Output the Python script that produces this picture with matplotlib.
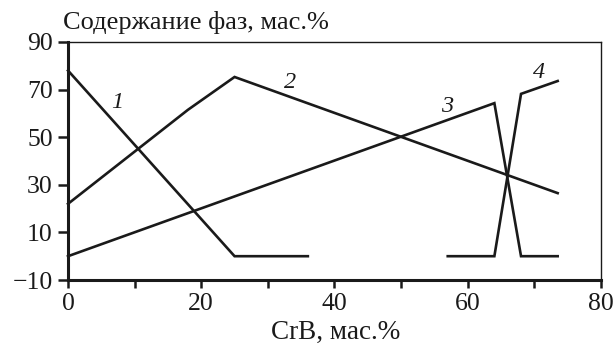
import matplotlib
matplotlib.use("Agg")
import matplotlib.pyplot as plt

plt.rcParams['font.family'] = ['Liberation Serif', 'DejaVu Serif']

# Data
x1 = [0, 25, 36]
y1 = [78, 0, 0]
x2 = [0, 18, 25, 73.5]
y2 = [22, 61.5, 75.3, 26.5]
x3 = [0, 64, 68, 73.5]
y3 = [0, 64.3, 0, 0]
x4 = [57, 64, 68, 73.5]
y4 = [0, 0, 68.2, 73.6]

labels = ['1', '2', '3', '4']
label_pos = [(7.4, 64.4), (33.3, 72.8), (56.9, 62.7), (70.7, 77.0)]

xticks = [0, 20, 40, 60, 80]
xminor = [10, 30, 50, 70]
yticks = [-10, 10, 30, 50, 70, 90]

fig = plt.figure(figsize=(6.16, 3.49), dpi=100)
ax = fig.add_axes([0.1104, 0.1977, 0.8652, 0.682])

for xs, ys in [(x1, y1), (x2, y2), (x3, y3), (x4, y4)]:
    ax.plot(xs, ys, color='#1a1a1a', lw=1.9, solid_joinstyle='miter', clip_on=False)

for lab, (lx, ly) in zip(labels, label_pos):
    ax.text(lx, ly, lab, fontsize=17.5, style='italic', ha='center', va='center', color='#1a1a1a')

ax.set_xlim(0, 80)
ax.set_ylim(-10, 90)
ax.set_xticks(xticks)
ax.set_xticks(xminor, minor=True)
ax.set_yticks(yticks)
ax.set_yticklabels([str(v).replace('-', '\u2212') for v in yticks])

ax.tick_params(axis='both', which='both', direction='out', labelsize=18.5,
               width=1.8, color='#1a1a1a', labelcolor='#1a1a1a')
ax.tick_params(axis='y', which='major', length=7, pad=4)
ax.tick_params(axis='x', which='both', length=5.5, pad=4)

for side in ['left', 'bottom']:
    ax.spines[side].set_linewidth(2.2)
    ax.spines[side].set_color('#1a1a1a')
for side in ['top', 'right']:
    ax.spines[side].set_linewidth(1.0)
    ax.spines[side].set_color('#1a1a1a')

fig.text(0.5446, 0.028, 'CrB, мас.%', fontsize=19.5, ha='center', va='baseline', color='#1a1a1a')
fig.text(0.102, 0.917, 'Содержание фаз, мас.%', fontsize=19, ha='left', va='baseline', color='#1a1a1a')

fig.savefig('out.png', dpi=100)
